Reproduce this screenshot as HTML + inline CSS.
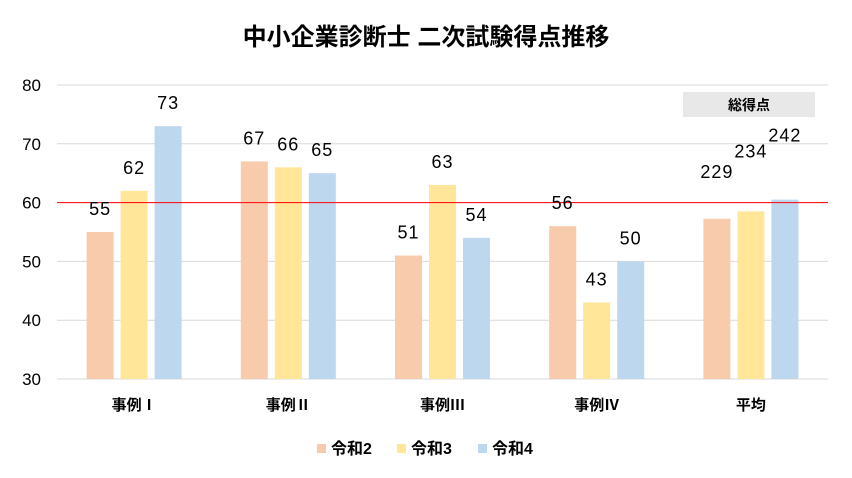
<!DOCTYPE html>
<html><head><meta charset="utf-8"><style>
body{margin:0;background:#fff;}
svg{display:block;font-family:"Liberation Sans","Noto Sans CJK JP",sans-serif;}
</style></head><body>
<svg id="c" width="852" height="478">
<text x="426" y="45" text-anchor="middle" font-size="24" font-weight="bold" fill="#000">中小企業診断士 二次試験得点推移</text>
<rect x="683" y="92" width="132" height="25" fill="#e8e8e8"/>
<text x="749" y="110" text-anchor="middle" font-size="14" font-weight="bold" fill="#000">総得点</text>
<g id="grid"></g><g id="bars"></g><g id="labels"></g>
</svg>
<script>
const categories=["事例Ⅰ","事例Ⅱ","事例Ⅲ","事例Ⅳ","平均"];
const seriesNames=["令和2","令和3","令和4"];
const r2=[55,67,51,56,57.25];
const r3=[62,66,63,43,58.5];
const r4=[73,65,54,50,60.5];
const valueLabels=[["55","67","51","56","229"],["62","66","63","43","234"],["73","65","54","50","242"]];
const yTicks=[30,40,50,60,70,80];
const passLine=60;
const colors=["#F8CBAD","#FFE699","#BDD7EE"];
const NS="http://www.w3.org/2000/svg";
const svg=document.getElementById('c');
const x0=57,x1=828,yTop=85,yBot=379,vMin=30,vMax=80;
const y=v=>yBot-(v-vMin)/(vMax-vMin)*(yBot-yTop);
const gw=(x1-x0)/categories.length;
const bw=27,gap=7;
function bx(ci,si){return x0+gw*ci+gw/2-bw*1.5-gap+si*(bw+gap);}
function mk(tag,attrs,parent,txt){const e=document.createElementNS(NS,tag);for(const k in attrs)e.setAttribute(k,attrs[k]);if(txt!==undefined)e.textContent=txt;parent.appendChild(e);return e;}
const G=document.getElementById('grid'),B=document.getElementById('bars'),L=document.getElementById('labels');
yTicks.forEach(t=>{
  const l=mk('line',{x1:x0,x2:x1,y1:y(t),y2:y(t),stroke:'#d9d9d9','stroke-width':1},G);
  
  
  const tx=mk('text',{x:41,y:y(t)+6,'text-anchor':'end','font-size':17,fill:'#000'},G,String(t));
  
  
});
const series=[r2,r3,r4];
const avgOff=[-41,-54,-58];
series.forEach((s,si)=>{
  s.forEach((v,ci)=>{
    const r=mk('rect',{x:bx(ci,si),y:y(v),width:bw,height:yBot-y(v),fill:colors[si]},B);
    
    
    const off=ci===4?avgOff[si]:-17;
    const t=mk('text',{x:bx(ci,si)+bw/2,y:y(v)+off,'text-anchor':'middle','font-size':18,'letter-spacing':'1',fill:'#000'},L,valueLabels[si][ci]);
    
    
  });
});
const rl=mk('line',{x1:x0,x2:x1,y1:y(passLine),y2:y(passLine),stroke:'#ff0000','stroke-width':1},B);


categories.forEach((c,ci)=>{
  const t=mk('text',{x:x0+gw*ci+gw/2,y:410,'text-anchor':'middle','font-size':15,'font-weight':'bold',fill:'#000'},G,c);
  
  
});
const lx=[317,397,478];
seriesNames.forEach((n,si)=>{
  const r=mk('rect',{x:lx[si],y:444,width:9,height:9,fill:colors[si]},G);
  
  
  const t=mk('text',{x:lx[si]+14,y:454,'font-size':16,'font-weight':'bold',fill:'#000'},G,n);
  
  
});
</script>
</body></html>
